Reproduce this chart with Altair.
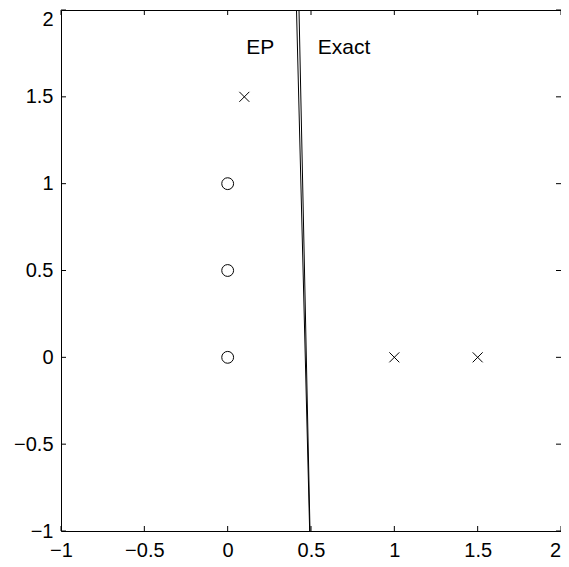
import altair as alt
import pandas as pd

# Data
circle_x = [0.0, 0.0, 0.0]
circle_y = [0.0, 0.5, 1.0]
cross_x = [0.1, 1.0, 1.5]
cross_y = [1.5, 0.0, 0.0]
line_series = ["EP", "EP", "Exact", "Exact"]
line_x = [0.413, 0.492, 0.428, 0.494]
line_y = [2.0, -1.0, 2.0, -1.0]
label_text = ["EP", "Exact"]
label_x = [0.195, 0.698]
label_y = [1.78, 1.78]
tick_values = [-1, -0.5, 0, 0.5, 1, 1.5, 2]

W, H = 500, 521
FONT = "Liberation Sans"

xs = alt.Scale(domain=[-1, 2], nice=False, zero=False)
ys = alt.Scale(domain=[-1, 2], nice=False, zero=False)

label_expr = "datum.value < 0 ? '\u2212' + format(-datum.value, '~g') : format(datum.value, '~g')"

xaxis = alt.Axis(values=tick_values, title=None, ticks=False, tickSize=0, domain=False, grid=False,
                 labelFont=FONT, labelFontSize=20, labelColor="black", labelPadding=9,
                 labelExpr=label_expr, labelFlush=False, labelOverlap=False,
                 labelOffset={"condition": {"test": "datum.value == 2", "value": -6}, "value": 0})
yaxis = alt.Axis(values=tick_values, title=None, ticks=False, tickSize=0, domain=False, grid=False,
                 labelFont=FONT, labelFontSize=20, labelColor="black", labelPadding=8,
                 labelExpr=label_expr, labelFlush=False, labelOverlap=False,
                 labelOffset={"condition": {"test": "datum.value == 2", "value": 9}, "value": 0})

circles_df = pd.DataFrame({"x": circle_x, "y": circle_y})
cross_df = pd.DataFrame({"x": cross_x, "y": cross_y})
lines_df = pd.DataFrame({"s": line_series, "x": line_x, "y": line_y})
labels_df = pd.DataFrame({"t": label_text, "x": label_x, "y": label_y})
ticks_df = pd.DataFrame({"v": tick_values})

base_axes = alt.Chart(circles_df).mark_point(
    shape="circle", size=140, filled=False, color="black", strokeWidth=1, opacity=1
).encode(
    x=alt.X("x:Q", scale=xs, axis=xaxis),
    y=alt.Y("y:Q", scale=ys, axis=yaxis),
)

crosses = alt.Chart(cross_df).mark_point(
    shape="M-1,-1L1,1M1,-1L-1,1", size=100, filled=False, color="black", strokeWidth=1, opacity=1
).encode(x=alt.X("x:Q", scale=xs), y=alt.Y("y:Q", scale=ys))

lines = alt.Chart(lines_df).mark_line(color="black", strokeWidth=1).encode(
    x=alt.X("x:Q", scale=xs), y=alt.Y("y:Q", scale=ys), detail="s:N"
)

labels = alt.Chart(labels_df).mark_text(
    font=FONT, fontSize=21, color="black", align="center", baseline="middle"
).encode(x=alt.X("x:Q", scale=xs), y=alt.Y("y:Q", scale=ys), text="t:N")

tl = 5
bottom_ticks = alt.Chart(ticks_df).mark_rule(color="black", strokeWidth=1).encode(
    x=alt.X("v:Q", scale=xs), y=alt.value(H), y2=alt.value(H - tl))
top_ticks = alt.Chart(ticks_df).mark_rule(color="black", strokeWidth=1).encode(
    x=alt.X("v:Q", scale=xs), y=alt.value(0), y2=alt.value(tl))
left_ticks = alt.Chart(ticks_df).mark_rule(color="black", strokeWidth=1).encode(
    y=alt.Y("v:Q", scale=ys), x=alt.value(0), x2=alt.value(tl))
right_ticks = alt.Chart(ticks_df).mark_rule(color="black", strokeWidth=1).encode(
    y=alt.Y("v:Q", scale=ys), x=alt.value(W), x2=alt.value(W - tl))

chart = alt.layer(
    base_axes, crosses, lines, labels, bottom_ticks, top_ticks, left_ticks, right_ticks
).properties(
    width=W, height=H,
    autosize=alt.AutoSizeParams(type="none"),
    padding={"left": 53, "top": 2, "right": 0, "bottom": 28},
).configure(
    background="white"
).configure_view(
    stroke="black", strokeWidth=1
)

chart.save("out.html", embed_options={"renderer": "svg", "actions": False})
